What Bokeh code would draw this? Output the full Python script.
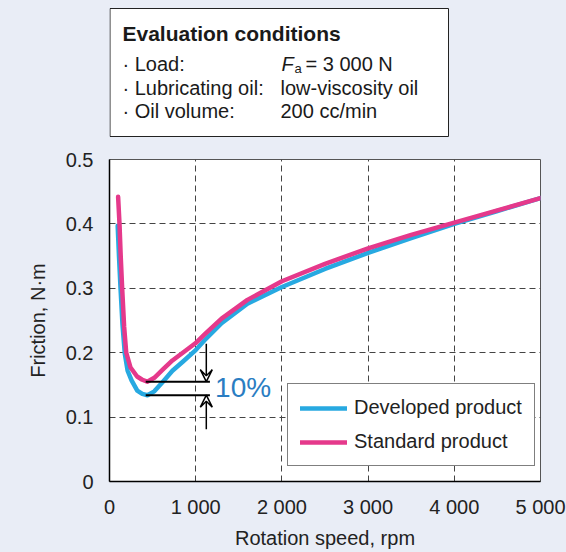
from bokeh.plotting import figure
from bokeh.layouts import column
from bokeh.models import Range1d, FixedTicker, Legend, Label, Arrow, VeeHead
from bokeh.embed import file_html
from bokeh.resources import INLINE

# Friction vs rotation speed
dev_rpm = [95, 110, 128, 150, 178, 210, 256, 322, 380, 440, 520, 620, 730, 850,
           1000, 1100, 1300, 1600, 2000, 2500, 3000, 3500, 4000, 4500, 5000]
dev_friction = [0.397, 0.350, 0.300, 0.245, 0.198, 0.172, 0.157, 0.141, 0.136, 0.134,
                0.140, 0.155, 0.172, 0.186, 0.204, 0.219, 0.246, 0.276, 0.302, 0.330,
                0.355, 0.378, 0.400, 0.420, 0.440]

std_rpm = [100, 116, 130, 147, 170, 194, 244, 320, 380, 438, 520, 620, 730, 850,
           1000, 1100, 1300, 1600, 2000, 2500, 3000, 3500, 4000, 4500, 5000]
std_friction = [0.442, 0.400, 0.350, 0.300, 0.240, 0.200, 0.177, 0.163, 0.158, 0.155,
                0.161, 0.174, 0.188, 0.200, 0.215, 0.228, 0.253, 0.282, 0.311, 0.338,
                0.362, 0.383, 0.402, 0.421, 0.440]

x_ticks = [0, 1000, 2000, 3000, 4000, 5000]
x_tick_labels = ["0", "1 000", "2 000", "3 000", "4 000", "5 000"]
y_ticks = [0, 0.1, 0.2, 0.3, 0.4, 0.5]
y_tick_labels = ["0", "0.1", "0.2", "0.3", "0.4", "0.5"]

series_names = ["Developed product", "Standard product"]
reduction_text = "10%"

conditions_title = "Evaluation conditions"
conditions_keys = ["\u00b7 Load:", "\u00b7 Lubricating oil:", "\u00b7 Oil volume:"]
conditions_vals = ["", "low-viscosity oil", "200 cc/min"]
load_symbol = "F"
load_subscript = "a"
load_value = "= 3 000 N"

BLUE = "#27a9e1"
PINK = "#e5398b"
BG = "#e9edf6"
INK = "#1a1a1a"
FONT = "Liberation Sans"
W = 566
LEFT, RIGHT_PAD = 109, 26
TOP_H = 139
MAIN_H = 552 - TOP_H
MAIN_TOP = 20

# ---- header panel holding the evaluation-conditions box
# (its frame lines up with the chart frame, so x runs in page pixels 109..540)
top = figure(width=W, height=TOP_H, output_backend="svg", toolbar_location=None,
             x_range=Range1d(LEFT, W - RIGHT_PAD), y_range=Range1d(0, TOP_H),
             min_border_left=LEFT, min_border_right=RIGHT_PAD,
             min_border_top=0, min_border_bottom=0)
top.axis.visible = False
top.grid.visible = False
top.outline_line_color = None
top.border_fill_color = BG
top.background_fill_color = BG
top.quad(left=[109.5], right=[448], bottom=[TOP_H - 136], top=[TOP_H - 8],
         fill_color="white", line_color="#222222", line_width=1)

def header_text(x, y, text, size="20px", style="normal"):
    top.add_layout(Label(x=x, y=y, text=text, text_font=FONT, text_font_size=size,
                         text_font_style=style, text_color=INK,
                         text_baseline="middle", text_align="left"))

header_text(122, TOP_H - 33, conditions_title, size="21px", style="bold")
row_y = [TOP_H - 63, TOP_H - 87, TOP_H - 110]
for key, val, yy in zip(conditions_keys, conditions_vals, row_y):
    header_text(122, yy, key)
    if val:
        header_text(280, yy, val)
header_text(281, row_y[0], load_symbol, style="italic")
header_text(294, row_y[0] - 5, load_subscript, size="13px")
header_text(305, row_y[0], load_value)

# ---- main chart
p = figure(width=W, height=MAIN_H, output_backend="svg", toolbar_location=None,
           x_range=Range1d(0, 5000), y_range=Range1d(0, 0.5),
           min_border_left=LEFT, min_border_right=RIGHT_PAD, min_border_top=MAIN_TOP,
           min_border_bottom=71)
p.border_fill_color = BG
p.background_fill_color = "white"
p.outline_line_color = "#555555"
p.outline_line_width = 1

for ax in (p.xaxis[0], p.yaxis[0]):
    ax.axis_line_color = "black"
    ax.axis_line_width = 1.5
    ax.major_tick_line_color = None
    ax.minor_tick_line_color = None
    ax.major_label_text_font = FONT
    ax.major_label_text_font_size = "20px"
    ax.major_label_text_color = "#222222"
    ax.axis_label_text_font = FONT
    ax.axis_label_text_font_size = "20px"
    ax.axis_label_text_font_style = "normal"
    ax.axis_label_text_color = "#222222"

p.xaxis.ticker = FixedTicker(ticks=x_ticks)
p.xaxis.major_label_overrides = {t: s for t, s in zip(x_ticks, x_tick_labels)}
p.yaxis.ticker = FixedTicker(ticks=y_ticks)
p.yaxis.major_label_overrides = {t: s for t, s in zip(y_ticks, y_tick_labels)}
p.xaxis.axis_label = "Rotation speed, rpm"
p.yaxis.axis_label = "Friction, N\u00b7m"
p.xaxis.major_label_standoff = 8
p.xaxis.axis_label_standoff = 6
p.yaxis.major_label_standoff = 10
p.yaxis.axis_label_standoff = 14

for g in (p.xgrid[0], p.ygrid[0]):
    g.grid_line_color = "#444444"
    g.grid_line_dash = "6 4"
    g.grid_line_width = 1
p.xgrid.ticker = FixedTicker(ticks=x_ticks[1:-1])
p.ygrid.ticker = FixedTicker(ticks=y_ticks[1:-1])

r_dev = p.line(dev_rpm, dev_friction, line_color=BLUE, line_width=4.5,
               line_join="round", line_cap="round")
r_std = p.line(std_rpm, std_friction, line_color=PINK, line_width=4.5,
               line_join="round", line_cap="round")

# minimum levels and the reduction arrows
dev_min = min(dev_friction)
std_min = min(std_friction)
p.segment(x0=[420, 420], y0=[std_min, dev_min], x1=[1165, 1165], y1=[std_min, dev_min],
          line_color="black", line_width=2)
for y0, y1 in ((0.214, std_min), (0.081, dev_min)):
    p.add_layout(Arrow(x_start=1123, y_start=y0, x_end=1123, y_end=y1,
                       line_color="black", line_width=1.5,
                       end=VeeHead(size=12, line_color="black", line_width=1.5,
                                   fill_alpha=0)))
p.add_layout(Label(x=1225, y=0.146, text=reduction_text, text_font=FONT,
                   text_font_size="28px", text_color="#2a7dc2",
                   text_baseline="middle", text_align="left"))

legend = Legend(items=[(series_names[0], [r_dev]), (series_names[1], [r_std])],
                location=(178, 15), orientation="vertical")
legend.label_text_font = FONT
legend.label_text_font_size = "20px"
legend.label_text_color = "#222222"
legend.glyph_width = 47
legend.glyph_height = 22
legend.label_height = 22
legend.label_width = 168
legend.label_standoff = 7
legend.padding = 12
legend.spacing = 11
legend.margin = 0
legend.border_line_color = "black"
legend.border_line_width = 1
legend.background_fill_color = "white"
legend.background_fill_alpha = 1
p.add_layout(legend, "center")

layout = column(top, p, spacing=0, styles={"background-color": BG})
open("out.html", "w").write(file_html(layout, INLINE))
